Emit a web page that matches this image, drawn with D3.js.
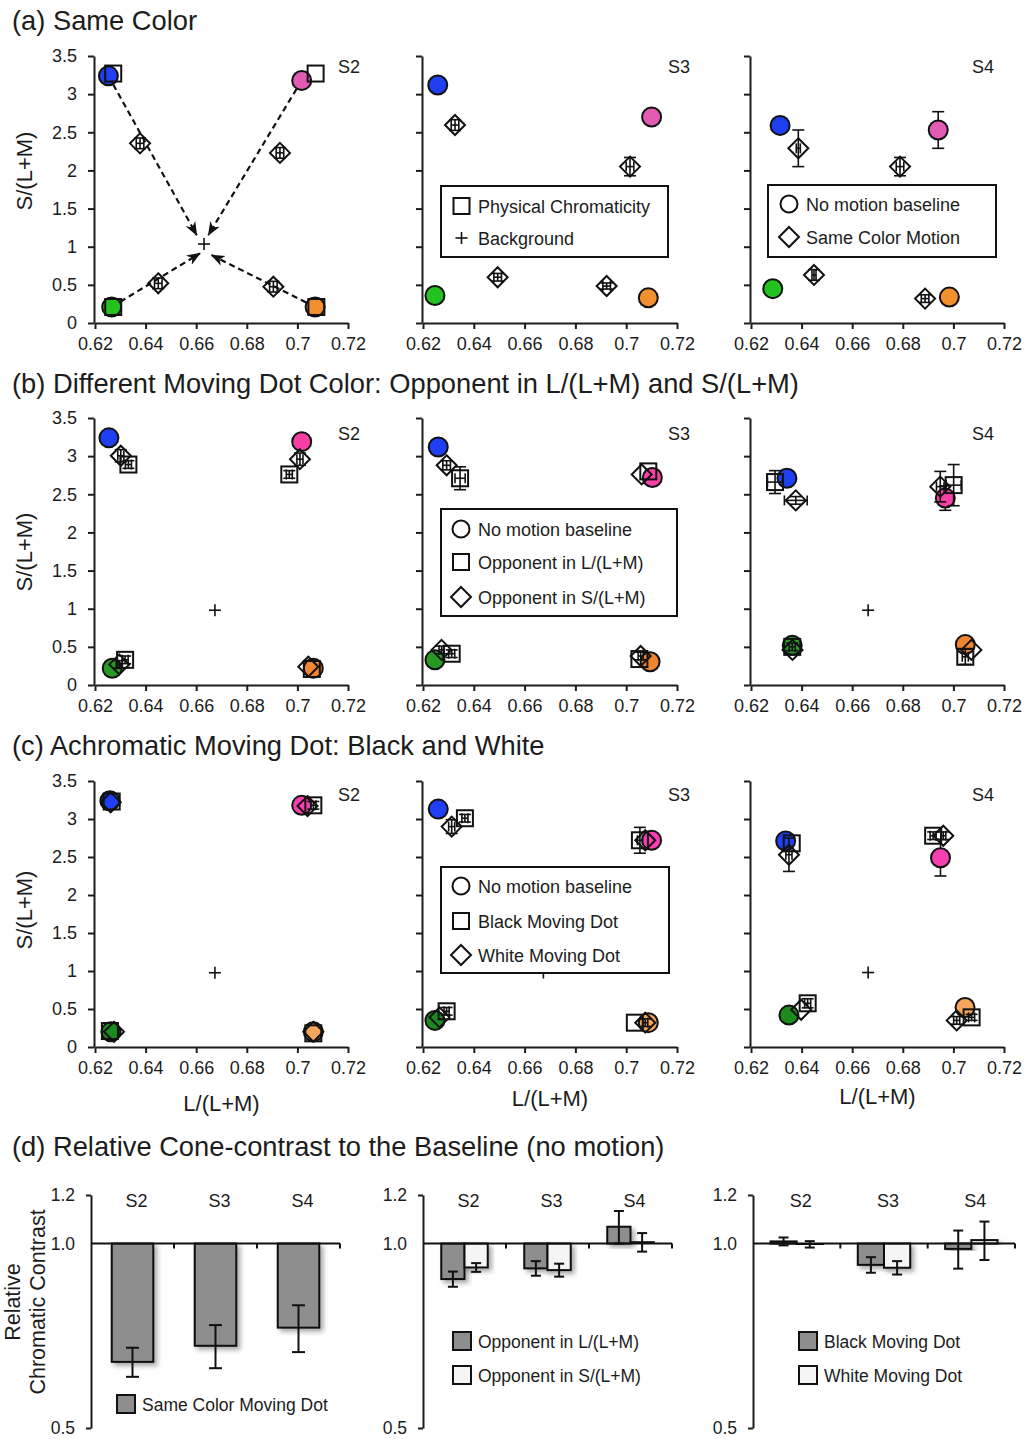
<!DOCTYPE html>
<html>
<head>
<meta charset="utf-8">
<script src="https://cdn.jsdelivr.net/npm/d3@7"></script>
<style>
  body { margin: 0; background: #fff; }
  svg { font-family: "Liberation Sans", Arial, sans-serif; }
</style>
</head>
<body>
<svg width="1025" height="1439"></svg>
<script>
var width = 1025, height = 1439;
var svg = d3.select('svg');

var subjects = ["S2", "S3", "S4"];
var xTicks = [0.62, 0.64, 0.66, 0.68, 0.70, 0.72];
var yTicks = [0, 0.5, 1, 1.5, 2, 2.5, 3, 3.5];
var barTicks = [0.5, 1.0, 1.2];

// rows: [subject, hue, L/(L+M), S/(L+M), errL, errS]
var aBaseline = [
  ["S2","blue",0.6253,3.24,0,0], ["S2","pink",0.7017,3.18,0,0], ["S2","green",0.6266,0.21,0,0], ["S2","orange",0.7070,0.21,0,0],
  ["S3","blue",0.6258,3.12,0,0], ["S3","pink",0.7100,2.70,0,0], ["S3","green",0.6247,0.36,0,0], ["S3","orange",0.7087,0.33,0,0],
  ["S4","blue",0.6315,2.59,0,0.1], ["S4","pink",0.6940,2.53,0,0.24], ["S4","green",0.6286,0.45,0,0], ["S4","orange",0.6984,0.34,0,0]
];
var aPhysical = [
  ["S2","blue",0.6272,3.27,0,0], ["S2","pink",0.7072,3.27,0,0], ["S2","green",0.6272,0.21,0,0], ["S2","orange",0.7075,0.21,0,0]
];
var aSameColor = [
  ["S2","blue",0.6378,2.355,0.0015,0.07], ["S2","pink",0.6931,2.23,0.0015,0.07], ["S2","green",0.6450,0.52,0.0015,0.07], ["S2","orange",0.6905,0.476,0.0015,0.07],
  ["S3","blue",0.6326,2.595,0.0015,0.07], ["S3","pink",0.7015,2.05,0.0015,0.12], ["S3","green",0.6494,0.60,0.0015,0.05], ["S3","orange",0.6923,0.485,0.0015,0.04],
  ["S4","blue",0.6387,2.29,0.0008,0.24], ["S4","pink",0.6789,2.05,0.0015,0.12], ["S4","green",0.6449,0.63,0.0008,0.07], ["S4","orange",0.6888,0.32,0.0015,0.05]
];
var aBackground = [["S2",0.6631,1.035], ["S3",0.6631,1.0], ["S4",0.6631,1.0]];
var aArrowTips = [
  ["S2","blue",0.6602,1.153], ["S2","pink",0.6648,1.153], ["S2","green",0.6615,0.913], ["S2","orange",0.6661,0.89]
];

var bBaseline = [
  ["S2","blue",0.6255,3.24,0,0], ["S2","pink",0.7017,3.19,0,0], ["S2","green",0.6268,0.22,0,0], ["S2","orange",0.7063,0.22,0,0],
  ["S3","blue",0.6260,3.12,0,0], ["S3","pink",0.7103,2.72,0,0], ["S3","green",0.6247,0.33,0,0], ["S3","orange",0.7094,0.305,0,0],
  ["S4","blue",0.6342,2.71,0,0.1], ["S4","pink",0.6968,2.45,0,0.16], ["S4","green",0.6363,0.52,0,0], ["S4","orange",0.7047,0.53,0,0]
];
var bOppL = [
  ["S2","blue",0.6332,2.89,0.0012,0.05], ["S2","pink",0.6968,2.76,0.0012,0.05], ["S2","green",0.6319,0.33,0.0012,0.05], ["S2","orange",0.7057,0.21,0,0],
  ["S3","blue",0.6346,2.71,0.002,0.15], ["S3","pink",0.7087,2.80,0,0], ["S3","green",0.6313,0.41,0.0012,0.05], ["S3","orange",0.7052,0.34,0,0],
  ["S4","blue",0.6295,2.66,0.003,0.15], ["S4","pink",0.7001,2.62,0.003,0.27], ["S4","green",0.6363,0.50,0.0012,0.05], ["S4","orange",0.7047,0.37,0.0012,0.1]
];
var bOppS = [
  ["S2","blue",0.6302,3.005,0.0012,0.08], ["S2","pink",0.7010,2.96,0.0012,0.08], ["S2","green",0.6296,0.27,0.0012,0.05], ["S2","orange",0.7043,0.24,0,0],
  ["S3","blue",0.6293,2.88,0.0015,0.06], ["S3","pink",0.7061,2.76,0,0], ["S3","green",0.6273,0.46,0.001,0.05], ["S3","orange",0.7057,0.38,0.001,0.05],
  ["S4","blue",0.6377,2.42,0.0045,0.05], ["S4","pink",0.6948,2.60,0.0015,0.2], ["S4","green",0.6364,0.46,0,0], ["S4","orange",0.7071,0.46,0,0]
];
var bBackground = [["S2",0.6674,0.98], ["S3",0.6674,0.98], ["S4",0.6663,0.98]];

var cBaseline = [
  ["S2","blue",0.6259,3.24,0,0], ["S2","pink",0.7017,3.18,0,0], ["S2","green",0.6263,0.20,0,0], ["S2","orange",0.7063,0.20,0,0],
  ["S3","blue",0.6260,3.13,0,0], ["S3","pink",0.7100,2.72,0,0], ["S3","green",0.6247,0.35,0,0], ["S3","orange",0.7087,0.32,0,0],
  ["S4","blue",0.6337,2.71,0,0.08], ["S4","pink",0.6949,2.49,0,0.24], ["S4","green",0.6350,0.42,0,0], ["S4","orange",0.7046,0.52,0,0]
];
var cBlack = [
  ["S2","blue",0.6266,3.23,0,0], ["S2","pink",0.7063,3.18,0.001,0.05], ["S2","green",0.6259,0.21,0,0], ["S2","orange",0.7063,0.18,0,0],
  ["S3","blue",0.6365,3.01,0.0012,0.05], ["S3","pink",0.7054,2.72,0.001,0.17], ["S3","green",0.6293,0.47,0.001,0.05], ["S3","orange",0.7034,0.32,0,0],
  ["S4","blue",0.6361,2.68,0,0], ["S4","pink",0.6920,2.78,0.0012,0.05], ["S4","green",0.6424,0.575,0.0012,0.06], ["S4","orange",0.7072,0.39,0.0012,0.04]
];
var cWhite = [
  ["S2","blue",0.6262,3.22,0,0], ["S2","pink",0.7040,3.17,0,0], ["S2","green",0.6275,0.20,0,0], ["S2","orange",0.7063,0.20,0,0],
  ["S3","blue",0.6313,2.90,0.0012,0.09], ["S3","pink",0.7075,2.72,0,0], ["S3","green",0.6265,0.39,0,0], ["S3","orange",0.7075,0.32,0.001,0.05],
  ["S4","blue",0.6350,2.53,0.0012,0.22], ["S4","pink",0.6960,2.78,0.001,0.05], ["S4","green",0.6398,0.49,0,0], ["S4","orange",0.7013,0.35,0.0012,0.05]
];
var cBackground = [["S2",0.6674,0.977], ["S3",0.6674,0.98], ["S4",0.6663,0.98]];

// relative cone contrast: [subject, value, err]
var dSameColor = [["S2",0.641,0.035], ["S3",0.681,0.055], ["S4",0.729,0.064]];
var dOppL = [["S2",0.875,0.025], ["S3",0.911,0.025], ["S4",1.065,0.065]];
var dOppS = [["S2",0.914,0.015], ["S3",0.905,0.022], ["S4",1.005,0.035]];
var dBlack = [["S2",1.008,0.015], ["S3",0.923,0.027], ["S4",0.980,0.07]];
var dWhite = [["S2",0.997,0.012], ["S3",0.913,0.023], ["S4",1.013,0.073]];

var colorsA = {blue:"#1f3ff2", pink:"#e25bb3", green:"#24c21f", orange:"#f1902c"};
var colorsB = {blue:"#1f3ff2", pink:"#f83fa6", green:"#279a24", orange:"#f08532"};
var colorsC = {blue:"#1f3ff2", pink:"#f83fb0", green:"#1d8a1d", orange:"#f6a55c"};

var ink = "#1c1c1c";
var panelRange = {S2:[95,348], S3:[423,677], S4:[751,1004]};
var sLabelX = {S2:349, S3:679, S4:983};

// section titles
var titles = [
  ["(a) Same Color", 30],
  ["(b) Different Moving Dot Color: Opponent in L/(L+M) and S/(L+M)", 393],
  ["(c) Achromatic Moving Dot: Black and White", 755],
  ["(d) Relative Cone-contrast to the Baseline (no motion)", 1156]
];
svg.selectAll('.title').data(titles).enter()
  .append('text').attr('class','title')
  .attr('x', 12).attr('y', function(d){ return d[1]; })
  .attr('font-size', 27.3).attr('fill', ink)
  .text(function(d){ return d[0]; });

var defs = svg.append('defs');
defs.append('marker')
  .attr('id','arrowhead').attr('viewBox','0 0 14 14')
  .attr('refX', 13).attr('refY', 7)
  .attr('markerWidth', 14).attr('markerHeight', 14)
  .attr('markerUnits','userSpaceOnUse').attr('orient','auto')
  .append('path').attr('d','M0,1.5 L14,7 L0,12.5 L4,7 Z').attr('fill','#111');

var shadow = defs.append('filter').attr('id','shadow')
  .attr('x','-20%').attr('y','-20%').attr('width','150%').attr('height','150%');
shadow.append('feDropShadow').attr('dx',3).attr('dy',3).attr('stdDeviation',2.5)
  .attr('flood-color','#000').attr('flood-opacity',0.35);

function styleAxis(g, size) {
  g.attr('font-family', null).attr('font-size', size);
  g.selectAll('path.domain').attr('stroke', ink).attr('stroke-width', 2);
  g.selectAll('.tick line').attr('stroke', ink).attr('stroke-width', 2);
  g.selectAll('.tick text').attr('fill', ink);
}

function diamondPath(cx, cy, h) {
  return 'M' + cx + ',' + (cy - h) + 'L' + (cx + h) + ',' + cy + 'L' + cx + ',' + (cy + h) + 'L' + (cx - h) + ',' + cy + 'Z';
}

function drawErrors(g, x, y, rows) {
  rows.forEach(function(r){
    var cx = x(r[2]), cy = y(r[3]);
    if (r[5] > 0) {
      var y0 = y(r[3] - r[5]), y1 = y(r[3] + r[5]);
      g.append('line').attr('x1',cx).attr('x2',cx).attr('y1',y0).attr('y2',y1);
      g.append('line').attr('x1',cx-6).attr('x2',cx+6).attr('y1',y0).attr('y2',y0);
      g.append('line').attr('x1',cx-6).attr('x2',cx+6).attr('y1',y1).attr('y2',y1);
    }
    if (r[4] > 0) {
      var x0 = x(r[2] - r[4]), x1 = x(r[2] + r[4]);
      g.append('line').attr('x1',x0).attr('x2',x1).attr('y1',cy).attr('y2',cy);
      g.append('line').attr('x1',x0).attr('x2',x0).attr('y1',cy-5).attr('y2',cy+5);
      g.append('line').attr('x1',x1).attr('x2',x1).attr('y1',cy-5).attr('y2',cy+5);
    }
  });
}

function drawCross(g, cx, cy, s) {
  g.append('line').attr('x1',cx-s).attr('x2',cx+s).attr('y1',cy).attr('y2',cy);
  g.append('line').attr('x1',cx).attr('x2',cx).attr('y1',cy-s).attr('y2',cy+s);
}

var rows = [
  {key:'a', yRange:[323,56], base:aBaseline, squares:aPhysical, diamonds:aSameColor, bg:aBackground,
   colors:colorsA, yTitle:171, sLabelDy:17},
  {key:'b', yRange:[685,418], base:bBaseline, squares:bOppL, diamonds:bOppS, bg:bBackground,
   colors:colorsB, yTitle:552, sLabelDy:22},
  {key:'c', yRange:[1047,781], base:cBaseline, squares:cBlack, diamonds:cWhite, bg:cBackground,
   colors:colorsC, yTitle:910, sLabelDy:20}
];

rows.forEach(function(row){
  var y = d3.scaleLinear().domain([0, 3.5]).range(row.yRange);

  svg.append('text')
    .attr('transform','translate(32,' + row.yTitle + ') rotate(-90)')
    .attr('text-anchor','middle').attr('font-size', 22).attr('fill', ink)
    .text('S/(L+M)');

  subjects.forEach(function(s){
    var x = d3.scaleLinear().domain([0.62, 0.72]).range(panelRange[s]);
    var g = svg.append('g').attr('class','panel-' + row.key + '-' + s);
    var bySubj = function(d){ return d[0] === s; };

    var xa = g.append('g').attr('transform','translate(0,' + row.yRange[0] + ')')
      .call(d3.axisBottom(x).tickValues(xTicks).tickSize(6).tickSizeOuter(0).tickPadding(8)
        .tickFormat(d3.format('~g')));
    styleAxis(xa, 18);
    var ya = g.append('g').attr('transform','translate(' + (panelRange[s][0] - 1) + ',0)')
      .call(d3.axisLeft(y).tickValues(yTicks).tickSize(6).tickSizeOuter(0).tickPadding(11)
        .tickFormat(s === 'S2' ? d3.format('~g') : function(){ return ''; }));
    styleAxis(ya, 18);

    var marks = g.append('g').attr('stroke', '#111').attr('stroke-width', 1.6);
    row.bg.filter(bySubj).forEach(function(b){
      drawCross(marks, x(b[1]), y(b[2]), 6);
    });

    if (row.key === 'a') {
      aArrowTips.filter(bySubj).forEach(function(t){
        var from = row.base.filter(function(d){ return d[0] === s && d[1] === t[1]; })[0];
        g.append('line')
          .attr('x1', x(from[2])).attr('y1', y(from[3]))
          .attr('x2', x(t[2])).attr('y2', y(t[3]))
          .attr('stroke','#111').attr('stroke-width', 2.2)
          .attr('stroke-dasharray','6,4')
          .attr('marker-end','url(#arrowhead)');
      });
    }

    var errG = g.append('g').attr('stroke','#111').attr('stroke-width',1.6);
    drawErrors(errG, x, y, row.base.filter(bySubj));

    g.selectAll('circle.base').data(row.base.filter(bySubj)).enter()
      .append('circle').attr('class','base')
      .attr('cx', function(d){ return x(d[2]); })
      .attr('cy', function(d){ return y(d[3]); })
      .attr('r', 9.5)
      .attr('fill', function(d){ return row.colors[d[1]]; })
      .attr('stroke','#111').attr('stroke-width', 2);

    var errG2 = g.append('g').attr('stroke','#111').attr('stroke-width',1.6);
    drawErrors(errG2, x, y, row.squares.filter(bySubj));
    drawErrors(errG2, x, y, row.diamonds.filter(bySubj));

    g.selectAll('rect.sq').data(row.squares.filter(bySubj)).enter()
      .append('rect').attr('class','sq')
      .attr('x', function(d){ return x(d[2]) - 8; })
      .attr('y', function(d){ return y(d[3]) - 8; })
      .attr('width', 16).attr('height', 16)
      .attr('fill','none').attr('stroke','#111').attr('stroke-width', 2);

    g.selectAll('path.dm').data(row.diamonds.filter(bySubj)).enter()
      .append('path').attr('class','dm')
      .attr('d', function(d){ return diamondPath(x(d[2]), y(d[3]), 10); })
      .attr('fill','none').attr('stroke','#111').attr('stroke-width', 2);

    g.append('text')
      .attr('x', sLabelX[s]).attr('y', row.yRange[1] + row.sLabelDy)
      .attr('text-anchor','middle').attr('font-size', 18).attr('fill', ink)
      .text(s);

    if (row.key === 'c') {
      var xb = [1111, 1106, 1104][subjects.indexOf(s)];
      g.append('text')
        .attr('x', (panelRange[s][0] + panelRange[s][1]) / 2).attr('y', xb)
        .attr('text-anchor','middle').attr('font-size', 22).attr('fill', ink)
        .text('L/(L+M)');
    }
  });
});

// legends for the scatter rows
var legends = [
  {box:[441,186,227,71], items:[['square','Physical Chromaticity',206],['plus','Background',238]], ix:461.5, tx:478},
  {box:[768,185,228,72], items:[['circle','No motion baseline',204],['diamond','Same Color Motion',237]], ix:789, tx:806},
  {box:[441,509,236,107], items:[['circle','No motion baseline',529],['square','Opponent in L/(L+M)',562],['diamond','Opponent in S/(L+M)',597]], ix:461, tx:478},
  {box:[441,867,228,106], items:[['circle','No motion baseline',886],['square','Black Moving Dot',921],['diamond','White Moving Dot',955]], ix:461, tx:478}
];
legends.forEach(function(L){
  var g = svg.append('g').attr('class','legend');
  g.append('rect').attr('x',L.box[0]).attr('y',L.box[1]).attr('width',L.box[2]).attr('height',L.box[3])
    .attr('fill','#fff').attr('stroke','#111').attr('stroke-width',2);
  L.items.forEach(function(it){
    var cy = it[2];
    if (it[0] === 'square') {
      g.append('rect').attr('x',L.ix-8).attr('y',cy-8).attr('width',16).attr('height',16)
        .attr('fill','#fff').attr('stroke','#111').attr('stroke-width',2);
    } else if (it[0] === 'circle') {
      g.append('circle').attr('cx',L.ix).attr('cy',cy).attr('r',8.5)
        .attr('fill','#fff').attr('stroke','#111').attr('stroke-width',2);
    } else if (it[0] === 'diamond') {
      g.append('path').attr('d', diamondPath(L.ix, cy, 10))
        .attr('fill','#fff').attr('stroke','#111').attr('stroke-width',2);
    } else {
      var pg = g.append('g').attr('stroke','#111').attr('stroke-width',1.6);
      drawCross(pg, L.ix, cy, 6);
    }
    g.append('text').attr('x',L.tx).attr('y',cy + 6.5)
      .attr('font-size',18).attr('fill',ink).text(it[1]);
  });
});

// (d) relative cone-contrast bars
var yBar = d3.scaleLog().domain([0.5, 1.2]).range([1428, 1195]);
var barPanels = [
  {range:[91,340], series:[dSameColor], fills:['#8e8e8e'], span:0.5, cap:13,
   legend:[[117,1395,'Same Color Moving Dot']]},
  {range:[423,672], series:[dOppL, dOppS], fills:['#8e8e8e','#f5f5f5'], span:0.56, cap:10,
   legend:[[453,1332,'Opponent in L/(L+M)'],[453,1366,'Opponent in S/(L+M)']]},
  {range:[753,1015], series:[dBlack, dWhite], fills:['#8e8e8e','#f5f5f5'], span:0.6, cap:10,
   legend:[[799,1332,'Black Moving Dot'],[799,1366,'White Moving Dot']]}
];

svg.append('text')
  .attr('transform','translate(20,1302) rotate(-90)')
  .attr('text-anchor','middle').attr('font-size',21.5).attr('fill',ink).text('Relative');
svg.append('text')
  .attr('transform','translate(45,1302) rotate(-90)')
  .attr('text-anchor','middle').attr('font-size',21.5).attr('fill',ink).text('Chromatic Contrast');

barPanels.forEach(function(P){
  var g = svg.append('g');
  var band = d3.scaleBand().domain(subjects).range(P.range).padding(0);
  var inner = d3.scaleBand().domain(d3.range(P.series.length))
    .range([-band.bandwidth() * P.span / 2, band.bandwidth() * P.span / 2]).padding(0);

  var ya = g.append('g').attr('transform','translate(' + P.range[0] + ',0)')
    .call(d3.axisLeft(yBar).tickValues(barTicks).tickSize(5).tickSizeOuter(0).tickPadding(11)
      .tickFormat(d3.format('.1f')));
  styleAxis(ya, 17.5);
  ya.selectAll('.tick line').filter(function(d){ return d === 1.0; }).remove();

  P.series.forEach(function(ser, si){
    var sg = g.append('g');
    sg.selectAll('rect').data(ser).enter().append('rect')
      .attr('x', function(d){ return band(d[0]) + band.bandwidth() / 2 + inner(si); })
      .attr('y', function(d){ return Math.min(yBar(d[1]), yBar(1)); })
      .attr('width', inner.bandwidth())
      .attr('height', function(d){ return Math.abs(yBar(d[1]) - yBar(1)); })
      .attr('fill', P.fills[si]).attr('stroke','#111').attr('stroke-width',2)
      .attr('filter','url(#shadow)');
  });

  // baseline at 1.0 with ticks between subjects
  g.append('line').attr('x1',P.range[0]).attr('x2',P.range[1])
    .attr('y1',yBar(1)).attr('y2',yBar(1)).attr('stroke','#111').attr('stroke-width',2);
  subjects.forEach(function(s){
    var bx = band(s) + band.bandwidth();
    g.append('line').attr('x1',bx).attr('x2',bx).attr('y1',yBar(1)).attr('y2',yBar(1) + 5)
      .attr('stroke','#111').attr('stroke-width',2);
    g.append('text').attr('x', band(s) + band.bandwidth() / 2 + 4).attr('y', 1207)
      .attr('text-anchor','middle').attr('font-size',18).attr('fill',ink).text(s);
  });

  P.series.forEach(function(ser, si){
    var eg = g.append('g').attr('stroke','#111').attr('stroke-width',2);
    ser.forEach(function(d){
      var cx = band(d[0]) + band.bandwidth() / 2 + inner(si) + inner.bandwidth() / 2;
      var y0 = yBar(d[1] - d[2]), y1 = yBar(d[1] + d[2]);
      eg.append('line').attr('x1',cx).attr('x2',cx).attr('y1',y0).attr('y2',y1);
      eg.append('line').attr('x1',cx - P.cap/2).attr('x2',cx + P.cap/2).attr('y1',y0).attr('y2',y0);
      eg.append('line').attr('x1',cx - P.cap/2).attr('x2',cx + P.cap/2).attr('y1',y1).attr('y2',y1);
    });
  });

  P.legend.forEach(function(l, li){
    g.append('rect').attr('x',l[0]).attr('y',l[1]).attr('width',18).attr('height',18)
      .attr('fill',P.fills[li]).attr('stroke','#111').attr('stroke-width',2);
    g.append('text').attr('x',l[0] + 25).attr('y',l[1] + 16)
      .attr('font-size',17.5).attr('fill',ink).text(l[2]);
  });
});
</script>
</body>
</html>
